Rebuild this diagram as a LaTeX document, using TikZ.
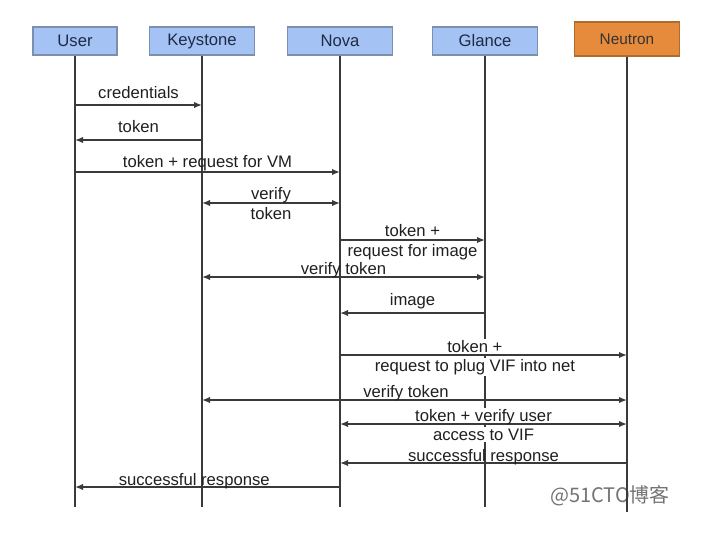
\documentclass[tikz,border=0pt]{standalone}
\usepackage{fontspec}
\setmainfont{Liberation Sans}
\newfontfamily\cjkfont{Noto Sans CJK SC}
\usetikzlibrary{positioning,arrows.meta}

\definecolor{boxblue}{HTML}{A4C2F4}
\definecolor{boxedge}{HTML}{7D8FAE}
\definecolor{neutronfill}{HTML}{E58B3B}
\definecolor{neutronedge}{HTML}{AF6A2E}
\definecolor{headtext}{HTML}{1F2A44}
\definecolor{linegray}{HTML}{3A3A3A}

\tikzset{
  actor/.style={draw=boxedge, fill=boxblue, line width=0.8pt, minimum width=78.75pt,
    minimum height=21pt, text=headtext, font=\fontsize{12.5}{14}\selectfont},
  life/.style={draw=linegray, line width=1.3pt},
  msg/.style={color=linegray, line width=1.1pt},
  lbl/.style={font=\fontsize{12.5}{14}\selectfont, text=black!88, inner sep=1pt},
  abovemsg/.style={lbl, anchor=base, yshift=#1},
  abovemsg/.default=2pt,
  belowmsg/.style={lbl, anchor=base, yshift=-12pt},
  cover/.style={fill=white},
  coverup/.style={fill=white, text depth=0pt}
}

\begin{document}
\begin{tikzpicture}[x=0.75pt, y=-0.75pt, >={Latex[length=6pt,width=4.8pt]}, on grid]
\useasboundingbox (0,0) rectangle (703,533);

\node[actor, minimum width=63pt] (user) at (75,41) {User};
\node[actor] (keystone) [right=95.25pt of user] {Keystone};
\node[actor] (nova) [right=103.5pt of keystone] {Nova};
\node[actor] (glance) [right=108.75pt of nova] {Glance};
\node[actor, fill=neutronfill, draw=neutronedge, text=black!80, minimum height=25.5pt,
  font=\fontsize{11.5}{14}\selectfont] (neutron) [right=106.5pt of glance, yshift=1.5pt] {Neutron};

% watermark
\node[font=\cjkfont\fontsize{15}{17}\selectfont, text=black!55] (mark) at (610,496) {@51CTO博客};

% lifelines
\coordinate (bottom) at (0,507);
\coordinate (nbottom) at (0,512);
\foreach \n in {user,keystone,nova,glance}
  \draw[life] (\n.south) -- (\n |- bottom);
\draw[life] (neutron.south) -- (neutron |- nbottom);

% message rows
\foreach \r/\y in {cred/105, tok/140, reqvm/172, vtok/203, reqimg/240, vtokg/277,
  img/313, plug/355, vtokn/400, vif/424, okn/463, oku/487}
  \coordinate (\r) at (0,\y);

\path[msg, ->]
(user |- cred) edge node[abovemsg=4.6pt] {credentials} (keystone |- cred)
(keystone |- tok) edge node[abovemsg=5.4pt] {token} (user |- tok)
(user |- reqvm) edge node[abovemsg=3.6pt] {token + request for VM} (nova |- reqvm)
(keystone |- vtok) edge[<->] node[abovemsg=2.4pt] {verify} node[belowmsg] {token} (nova |- vtok)
(nova |- reqimg) edge node[abovemsg=2.6pt] {token +} node[belowmsg] {request for image} (glance |- reqimg)
(keystone |- vtokg) edge[<->] node[abovemsg=1.9pt] {verify token} (glance |- vtokg)
(glance |- img) edge node[abovemsg=5.6pt] {image} (nova |- img)
(nova |- plug) edge node[abovemsg=1.9pt, coverup, pos=0.47] {token +}
  node[belowmsg, cover, pos=0.47] {request to plug VIF into net} (neutron |- plug)
(keystone |- vtokn) edge[<->] node[abovemsg=1.9pt, pos=0.48] {verify token} (neutron |- vtokn)
(nova |- vif) edge[<->] node[abovemsg=1.9pt, coverup] {token + verify user}
  node[belowmsg, cover] {access to VIF} (neutron |- vif)
(neutron |- okn) edge node[abovemsg=1.2pt] {successful response} (nova |- okn)
(nova |- oku) edge node[abovemsg=1.2pt, pos=0.55] {successful response} (user |- oku)
; %end path
\end{tikzpicture}
\end{document}
